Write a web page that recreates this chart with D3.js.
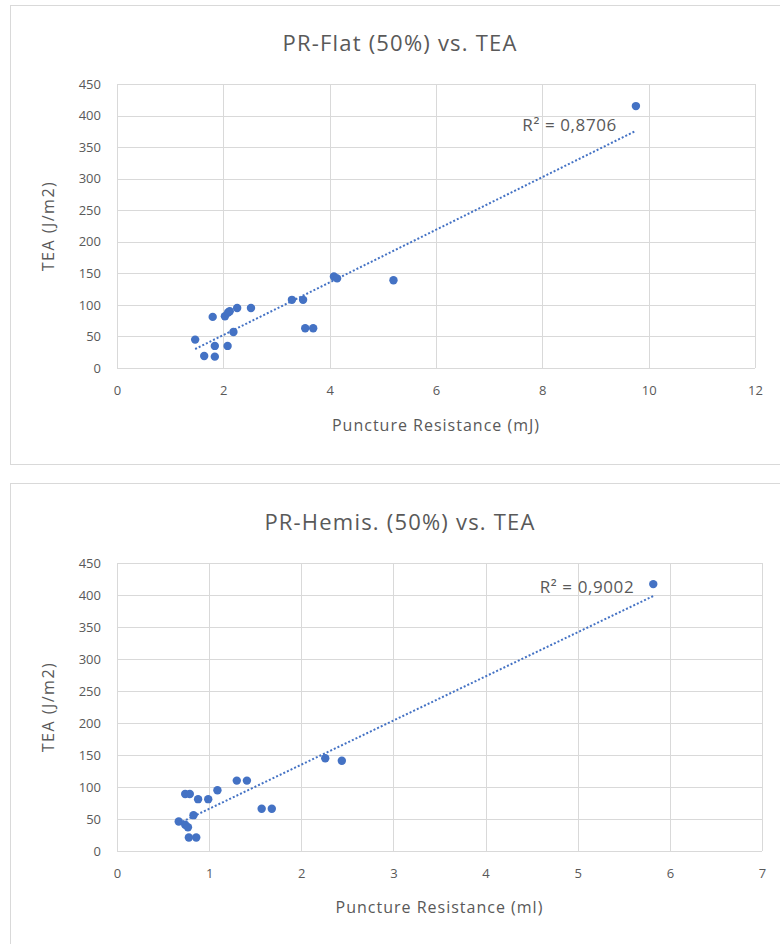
<!DOCTYPE html>
<html>
<head>
<meta charset="utf-8">
<script src="https://cdn.jsdelivr.net/npm/d3@7"></script>
<style>
  body { margin: 0; background: #fff; }
  svg text { font-family: "Open Sans", "Noto Sans", sans-serif; fill: #595959; }
  .grid line { stroke: #d9d9d9; }
  .axis path, .axis line { display: none; }
</style>
</head>
<body>
<div id="chart"></div>
<script>
// values
var flatPR  = [1.47, 1.80, 1.64, 1.84, 1.84, 2.08, 2.03, 2.09, 2.12, 2.26, 2.52, 2.19, 3.29, 3.50, 3.54, 3.69, 4.08, 4.14, 5.20, 9.76];
var flatTEA = [45, 81, 19, 18, 35, 35, 82, 88, 90, 95, 95, 57, 108, 108, 63, 63, 145, 142, 139, 415];

var hemiPR  = [0.67, 0.74, 0.77, 0.83, 0.78, 0.86, 0.74, 0.79, 0.88, 0.99, 1.09, 1.30, 1.41, 1.57, 1.68, 2.26, 2.44, 5.82];
var hemiTEA = [46, 41, 37, 56, 21, 21, 89, 89, 81, 81, 95, 110, 110, 66, 66, 145, 141, 417];

var yTicks = [0, 50, 100, 150, 200, 250, 300, 350, 400, 450];
var flatXTicks = [0, 2, 4, 6, 8, 10, 12];
var hemiXTicks = [0, 1, 2, 3, 4, 5, 6, 7];

var W = 780, H = 944;
var svg = d3.select("#chart").append("svg")
    .attr("width", W)
    .attr("height", H);

function drawChart(opt) {
  var g = svg.append("g").attr("transform", "translate(0," + opt.top + ")");

  // chart frame
  g.append("rect")
    .attr("x", 10.5).attr("y", 0.5)
    .attr("width", 790).attr("height", opt.boxH)
    .attr("fill", "#fff").attr("stroke", "#d9d9d9");

  var x = d3.scaleLinear().domain([0, d3.max(opt.xTicks)]).range([117, opt.right]);
  var y = d3.scaleLinear().domain([0, 450]).range([opt.plotBottom, opt.plotTop]);

  // gridlines
  var grid = g.append("g").attr("class", "grid");
  grid.selectAll(".h").data(yTicks).enter().append("line")
    .attr("x1", x(0)).attr("x2", opt.right)
    .attr("y1", function(d) { return Math.round(y(d)) + 0.5; })
    .attr("y2", function(d) { return Math.round(y(d)) + 0.5; });
  grid.selectAll(".v").data(opt.xTicks).enter().append("line")
    .attr("y1", opt.plotTop).attr("y2", opt.plotBottom)
    .attr("x1", function(d) { return Math.round(x(d)) + 0.5; })
    .attr("x2", function(d) { return Math.round(x(d)) + 0.5; });

  // axes (labels only)
  g.append("g").attr("class", "axis")
    .attr("transform", "translate(" + (x(0) - 8) + ",0)")
    .call(d3.axisLeft(y).tickValues(yTicks).tickSize(0).tickPadding(8))
    .selectAll("text").style("font-size", "13px").attr("fill", "#595959");
  g.append("g").attr("class", "axis")
    .attr("transform", "translate(0," + (opt.plotBottom + 10) + ")")
    .call(d3.axisBottom(x).tickValues(opt.xTicks).tickFormat(d3.format("d")).tickSize(0).tickPadding(8))
    .selectAll("text").style("font-size", "13px").attr("fill", "#595959");

  // least squares trendline
  var xs = opt.xs, ys = opt.ys;
  var mx = d3.mean(xs), my = d3.mean(ys);
  var sxy = d3.sum(xs, function(v, i) { return (v - mx) * (ys[i] - my); });
  var sxx = d3.sum(xs, function(v) { return (v - mx) * (v - mx); });
  var slope = sxy / sxx, icpt = my - slope * mx;
  var ext = d3.extent(xs);
  var trend = ext.map(function(v) { return [v, icpt + slope * v]; });

  g.append("path")
    .datum(trend)
    .attr("fill", "none")
    .attr("stroke", "#4472c4")
    .attr("stroke-width", 2)
    .attr("stroke-dasharray", "2,2")
    .attr("d", d3.line().x(function(d) { return x(d[0]); }).y(function(d) { return y(d[1]); }));

  // points
  g.selectAll("circle").data(xs).enter().append("circle")
    .attr("cx", function(d) { return x(d); })
    .attr("cy", function(d, i) { return y(ys[i]); })
    .attr("r", 4.2)
    .attr("fill", "#4472c4");

  // R² label
  var last = trend[1];
  g.append("text")
    .attr("x", x(last[0]) - 19)
    .attr("y", y(last[1]) + opt.r2dy)
    .attr("text-anchor", "end")
    .style("font-size", "17px")
    .style("letter-spacing", "0.6px")
    .text(opt.r2);

  // titles
  g.append("text")
    .attr("x", 400).attr("y", opt.titleY)
    .attr("text-anchor", "middle")
    .style("font-size", "22px")
    .style("letter-spacing", "1.2px")
    .text(opt.title);
  g.append("text")
    .attr("x", (x(0) + opt.right) / 2).attr("y", opt.xTitleY)
    .attr("text-anchor", "middle")
    .style("font-size", "16px")
    .style("letter-spacing", "1px")
    .text(opt.xTitle);
  g.append("text")
    .attr("transform", "translate(54," + ((opt.plotTop + opt.plotBottom) / 2) + ") rotate(-90)")
    .attr("text-anchor", "middle")
    .style("font-size", "16px")
    .style("letter-spacing", "1.5px")
    .text("TEA (J/m2)");
}

drawChart({
  top: 5, boxH: 459, right: 755, plotTop: 79, plotBottom: 363,
  xTicks: flatXTicks, xs: flatPR, ys: flatTEA,
  title: "PR-Flat (50%) vs. TEA", titleY: 46,
  xTitle: "Puncture Resistance (mJ)", xTitleY: 426,
  r2: "R² = 0,8706", r2dy: 0
});

drawChart({
  top: 483, boxH: 480, right: 762, plotTop: 80, plotBottom: 368,
  xTicks: hemiXTicks, xs: hemiPR, ys: hemiTEA,
  title: "PR-Hemis. (50%) vs. TEA", titleY: 47,
  xTitle: "Puncture Resistance (ml)", xTitleY: 430,
  r2: "R² = 0,9002", r2dy: -3
});
</script>
</body>
</html>
